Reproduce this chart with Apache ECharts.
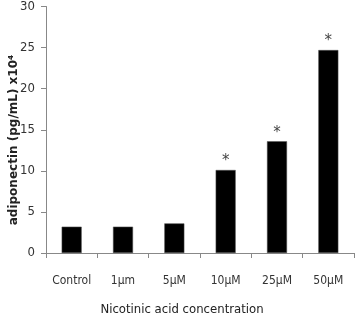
<!DOCTYPE html>
<html>
<head>
<meta charset="utf-8">
<script src="https://cdn.jsdelivr.net/npm/echarts@6/dist/echarts.min.js"></script>
<style>
  html, body { margin: 0; padding: 0; background: #fff; }
  #chart-container { width: 358px; height: 317px; }
</style>
</head>
<body>
<div id="chart-container"></div>
<script>
    var categories = ['Control', '1µm', '5µM', '10µM', '25µM', '50µM'];
    var values = [3.2, 3.2, 3.6, 10.1, 13.6, 24.7];
    var starred = [false, false, false, true, true, true];
    var yTicks = [0, 5, 10, 15, 20, 25, 30];

    var font = '"Liberation Sans Narrow", "DejaVu Sans Condensed", "Liberation Sans", sans-serif';

    var paintChart = function () {
        var myChart = echarts.init(document.getElementById('chart-container'));
        var barData = [];
        values.forEach(function (v, i) {
            barData.push({
                value: v,
                label: {
                    show: starred[i],
                    position: 'top',
                    formatter: '*',
                    distance: 1,
                    fontSize: 15,
                    color: '#444',
                    fontFamily: 'DejaVu Sans'
                }
            });
        });
        var option = {
            animation: false,
            grid: { left: 46, right: 4, top: 6, bottom: 64 },
            xAxis: {
                type: 'category',
                data: categories,
                axisLine: { lineStyle: { color: '#888' } },
                axisTick: { show: true, length: 5, lineStyle: { color: '#888' } },
                axisLabel: { margin: 22, fontSize: 12, color: '#333', fontFamily: font, interval: 0 }
            },
            yAxis: {
                type: 'value',
                min: yTicks[0],
                max: yTicks[yTicks.length - 1],
                interval: 5,
                splitLine: { show: false },
                axisLine: { show: true, lineStyle: { color: '#888' } },
                axisTick: { show: true, length: 5, lineStyle: { color: '#888' } },
                axisLabel: { margin: 11, fontSize: 13, color: '#333', fontFamily: font }
            },
            graphic: [
                {
                    type: 'text',
                    position: [182, 310],
                    style: {
                        text: 'Nicotinic acid concentration',
                        font: '13px ' + font,
                        fill: '#222',
                        align: 'center',
                        verticalAlign: 'middle'
                    }
                },
                {
                    type: 'text',
                    position: [14, 140],
                    rotation: Math.PI / 2,
                    style: {
                        text: 'adiponectin (pg/mL) x10⁴',
                        font: 'bold 12px "DejaVu Sans", sans-serif',
                        fill: '#222',
                        align: 'center',
                        verticalAlign: 'middle'
                    }
                }
            ],
            series: [
                {
                    type: 'bar',
                    data: barData,
                    barWidth: 20,
                    itemStyle: { color: '#000', borderColor: '#555', borderWidth: 0.5 }
                }
            ]
        };
        myChart.setOption(option);
    };

    paintChart();
</script>
</body>
</html>
